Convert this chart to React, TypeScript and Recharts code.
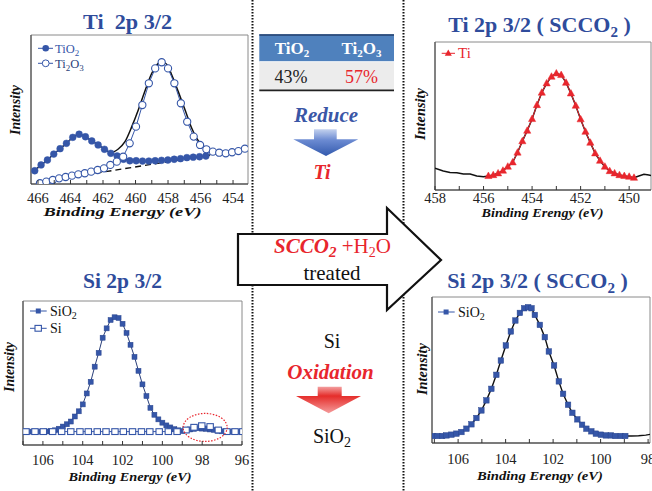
import React from 'react';
import { LineChart, Line, XAxis, YAxis, ReferenceArea, ReferenceLine, ReferenceDot } from 'recharts';

const SERIF = "'Liberation Serif', Tinos, 'Times New Roman', 'DejaVu Serif', serif";
const BLUE = '#3556a8';
const RED = '#e8262d';
const TITLE_BLUE = '#2f4c9c';
const FS = { fontFamily: SERIF } as React.CSSProperties;

// ---------- Ti 2p 3/2 (as deposited) ----------
const tio2Energy = [466.2, 465.81, 465.42, 465.03, 464.64, 464.25, 463.86, 463.47, 463.08, 462.69, 462.3, 461.91, 461.52, 461.13, 460.74, 460.35, 459.96, 459.57, 459.18, 458.79, 458.4, 458.01, 457.62, 457.23, 456.84, 456.45, 456.06, 455.67];
const tio2Intensity = [8.9, 12.8, 16.1, 20.1, 23.7, 27.3, 31.3, 33.4, 31.7, 28.9, 26.2, 23.3, 20.6, 18.8, 16.6, 15.6, 15.6, 15.4, 15.4, 15.6, 15.9, 16.1, 16.6, 17.0, 17.7, 18.0, 18.3, 18.8];
const ti2o3Energy = [465.88, 465.49, 465.09, 464.7, 464.3, 463.91, 463.52, 463.12, 462.73, 462.33, 461.94, 461.55, 461.15, 460.76, 460.36, 459.97, 459.58, 459.18, 458.79, 458.39, 458.0, 457.61, 457.21, 456.82, 456.42, 456.03, 455.64, 455.24, 454.85, 454.45, 454.06, 453.67, 453.27];
const ti2o3Intensity = [0.5, 1.6, 2.7, 3.8, 4.7, 5.6, 6.5, 7.2, 8.3, 9.4, 10.5, 12.8, 15.0, 18.3, 27.3, 38.5, 53.0, 67.6, 77.6, 81.7, 77.6, 67.6, 54.2, 41.8, 31.8, 26.2, 23.3, 21.7, 21.0, 20.6, 21.3, 22.1, 23.7];
const tiFitEnergy = [466.2, 465.81, 465.42, 465.03, 464.64, 464.25, 463.86, 463.47, 463.08, 462.69, 462.3, 461.91, 461.52, 461.06, 460.65, 460.23, 459.83, 459.42, 459.0, 458.6, 458.35, 458.08, 457.77, 457.37, 456.95, 456.54, 456.13, 455.72, 455.31, 454.85, 454.45, 454.06, 453.67, 453.27];
const tiFitIntensity = [8.9, 12.8, 16.1, 20.1, 23.7, 27.3, 31.3, 33.4, 31.7, 28.9, 26.2, 23.3, 21.2, 23.5, 28.4, 38.5, 49.7, 62.4, 74.3, 81.0, 82.1, 80.3, 73.2, 62.0, 49.7, 37.4, 28.9, 24.6, 22.4, 21.0, 20.6, 21.3, 22.1, 23.7];
const tiBaseEnergy = [466.1, 453.2];
const tiBaseIntensity = [0.9, 23.3];
const tlTicks = [454, 455, 456, 457, 458, 459, 460, 461, 462, 463, 464, 465, 466];

// ---------- Ti 2p 3/2 (SCCO2) ----------
const tiScEnergy = [455.8, 455.6, 455.4, 455.2, 455.0, 454.8, 454.6, 454.4, 454.2, 454.0, 453.8, 453.6, 453.4, 453.2, 453.0, 452.8, 452.6, 452.4, 452.2, 452.0, 451.8, 451.6, 451.4, 451.2, 451.0, 450.8, 450.6, 450.4, 450.2, 450.0, 449.8];
const tiScIntensity = [9.5, 10.1, 11.3, 13.1, 15.8, 18.7, 25.3, 33.0, 40.1, 48.0, 57.4, 65.8, 72.1, 76.6, 78.8, 77.7, 72.5, 65.3, 57.0, 47.8, 39.4, 32.0, 24.8, 19.8, 15.8, 12.8, 11.3, 10.1, 9.5, 9.0, 8.3];
const tiRawLeftEnergy = [458.0, 457.66, 457.38, 457.1, 456.83, 456.55, 456.28, 456.0];
const tiRawLeftIntensity = [14.7, 12.8, 11.9, 11.7, 10.8, 10.8, 9.5, 9.0];
const tiRawRightEnergy = [449.6, 449.39, 449.19, 449.1];
const tiRawRightIntensity = [9.5, 10.6, 10.1, 9.8];
const trTicks = [450, 451, 452, 453, 454, 455, 456, 457, 458];

// ---------- Si 2p 3/2 (as deposited) ----------
const sio2Energy = [107.0, 106.8, 106.6, 106.4, 106.2, 106.0, 105.8, 105.6, 105.4, 105.2, 105.0, 104.8, 104.6, 104.4, 104.2, 104.0, 103.8, 103.6, 103.4, 103.2, 103.0, 102.8, 102.6, 102.4, 102.2, 102.0, 101.8, 101.6, 101.4, 101.2, 101.0, 100.8, 100.6, 100.4, 100.2, 100.0, 99.8, 99.6, 99.4, 99.2, 99.0, 98.8, 98.6, 98.4, 98.2, 98.0, 97.8, 97.6, 97.4, 97.2, 97.0, 96.8, 96.6, 96.4, 96.2];
const sio2Intensity = [9.3, 9.3, 9.3, 9.3, 9.3, 9.3, 9.4, 9.6, 10.2, 11.3, 12.8, 14.4, 16.3, 19.8, 23.4, 28.2, 35.8, 43.9, 54.4, 64.0, 74.5, 81.0, 86.8, 88.7, 88.2, 84.2, 77.8, 69.6, 61.2, 51.5, 42.1, 34.0, 25.8, 21.0, 17.8, 15.5, 13.6, 12.2, 11.0, 10.2, 9.7, 10.2, 10.8, 11.2, 11.6, 11.4, 11.2, 10.8, 10.5, 9.9, 9.5, 9.3, 9.3, 9.3, 9.3];
const siEnergy = [106.85, 106.4, 105.98, 105.51, 105.06, 104.6, 104.14, 103.72, 103.27, 102.83, 102.38, 101.96, 101.5, 101.05, 100.63, 100.16, 99.7, 99.26, 98.81, 98.41, 98.02, 97.6, 97.19, 96.76, 96.35, 95.96];
const siIntensity = [9.3, 9.3, 9.3, 9.3, 9.3, 9.3, 9.3, 9.3, 9.3, 9.3, 9.3, 9.3, 9.3, 9.3, 9.3, 9.3, 9.3, 9.3, 10.4, 12.3, 13.4, 12.8, 10.4, 9.3, 9.3, 9.3];
const blTicks = [96, 97, 98, 99, 100, 101, 102, 103, 104, 105, 106, 107];

// ---------- Si 2p 3/2 (SCCO2) ----------
const sio2ScEnergy = [107.05, 106.87, 106.67, 106.49, 106.28, 106.07, 105.86, 105.65, 105.44, 105.23, 105.02, 104.81, 104.6, 104.39, 104.2, 103.99, 103.78, 103.59, 103.4, 103.22, 103.05, 102.91, 102.77, 102.56, 102.35, 102.18, 101.96, 101.76, 101.58, 101.37, 101.19, 100.98, 100.78, 100.6, 100.39, 100.2, 99.99, 99.78, 99.57, 99.38, 99.15, 98.96];
const sio2ScIntensity = [4.8, 4.8, 4.8, 5.2, 5.7, 6.4, 7.5, 9.8, 12.8, 17.1, 22.3, 29.2, 37.1, 46.7, 56.5, 66.8, 76.4, 83.9, 89.1, 92.3, 93.0, 92.3, 87.7, 80.9, 72.5, 62.7, 53.1, 42.2, 33.7, 26.2, 20.7, 16.2, 12.5, 9.8, 8.0, 6.4, 5.7, 5.2, 5.2, 4.8, 4.8, 4.8];
const sio2ScTailEnergy = [98.7, 98.4, 98.1, 97.92];
const sio2ScTailIntensity = [4.8, 5.0, 5.4, 5.9];
const brTicks = [98, 99, 100, 101, 102, 103, 104, 105, 106, 107];

const zip = (e: number[], v: number[]) => e.map((x, k) => ({ e: x, i: v[k] }));

const makeTick = (offset: number) => (props: any) => {
  const { x, y, payload } = props;
  const v = payload.value;
  const show = Math.round(v) % 2 === 0;
  return (
    <g key={`t-${v}`}>
      <line x1={x} x2={x} y1={y} y2={y - 4} stroke="#333" strokeWidth={1} />
      {show && (
        <text x={x} y={y + offset} textAnchor="middle" style={FS} fontSize={14.5} fill="#222">
          {v}
        </text>
      )}
    </g>
  );
};

const triDot = (props: any) => {
  const { cx, cy, index } = props;
  if (cx == null || cy == null) return <g key={`tri-${index}`} />;
  return (
    <polygon
      key={`tri-${index}`}
      points={`${cx},${cy - 3.9} ${cx + 3.6},${cy + 2.6} ${cx - 3.6},${cy + 2.6}`}
      fill={RED}
      stroke={RED}
      strokeWidth={0.5}
    />
  );
};

const sqDot = (size: number) => (props: any) => {
  const { cx, cy, index } = props;
  if (cx == null || cy == null) return <g key={`sq-${index}`} />;
  return <rect key={`sq-${index}`} x={cx - size / 2} y={cy - size / 2} width={size} height={size} fill={BLUE} stroke="#2a468f" strokeWidth={0.5} />;
};

const openSqDot = (props: any) => {
  const { cx, cy, index } = props;
  if (cx == null || cy == null) return <g key={`osq-${index}`} />;
  return <rect key={`osq-${index}`} x={cx - 3.2} y={cy - 2.9} width={6.4} height={5.8} fill="#fff" stroke={BLUE} strokeWidth={1.1} />;
};

function Panel(props: {
  left: number; top: number; width: number; height: number;
  margin: { top: number; left: number; right: number; bottom: number };
  xh: number; domain: [number, number]; ticks: number[]; tickOffset: number;
  children: React.ReactNode;
}) {
  const { left, top, width, height, margin, xh, domain, ticks, tickOffset, children } = props;
  return (
    <div style={{ position: 'absolute', left, top, width, height }}>
      <LineChart width={width} height={height} margin={margin} style={FS}>
        <XAxis
          type="number"
          dataKey="e"
          domain={domain}
          reversed
          allowDataOverflow
          ticks={ticks}
          interval={0}
          tickLine={false}
          tickSize={0}
          tickMargin={0}
          height={xh}
          axisLine={{ stroke: '#333', strokeWidth: 1.2 }}
          tick={makeTick(tickOffset)}
        />
        <YAxis type="number" domain={[0, 100]} allowDataOverflow hide />
        <ReferenceArea x1={domain[0]} x2={domain[1]} y1={0} y2={100} fill="none" stroke="#8a8a8a" strokeWidth={1} ifOverflow="visible" />
        <ReferenceLine x={domain[1]} stroke="#555" strokeWidth={1.2} ifOverflow="visible" />
        {children}
      </LineChart>
    </div>
  );
}

const Overlay = () => (
  <svg width={652} height={491} style={{ position: 'absolute', left: 0, top: 0, pointerEvents: 'none', fontFamily: SERIF }}>
    <defs>
      <linearGradient id="gBlue" x1="0" y1="0" x2="0" y2="1">
        <stop offset="0" stopColor="#c3d1ee" />
        <stop offset="0.4" stopColor="#6c8bd2" />
        <stop offset="1" stopColor="#3259ad" />
      </linearGradient>
      <linearGradient id="gRed" x1="0" y1="0" x2="0" y2="1">
        <stop offset="0" stopColor="#f3a0a0" />
        <stop offset="0.35" stopColor="#e52d2a" />
        <stop offset="1" stopColor="#f59c9c" />
      </linearGradient>
    </defs>

    {/* dotted separators */}
    <line x1={252.5} y1={0} x2={252.5} y2={491} stroke="#111" strokeWidth={2} strokeDasharray="1.6 1.4" />
    <line x1={403.5} y1={0} x2={403.5} y2={491} stroke="#111" strokeWidth={2} strokeDasharray="1.6 1.4" />

    {/* titles */}
    <text x={127.5} y={28.5} textAnchor="middle" fontSize={20} fontWeight="bold" fill={TITLE_BLUE} textLength={89} lengthAdjust="spacingAndGlyphs" style={{ whiteSpace: 'pre', fontFamily: SERIF }}>Ti  2p 3/2</text>
    <text x={539.5} y={31.5} textAnchor="middle" fontSize={22} fontWeight="bold" fill={TITLE_BLUE} style={{ whiteSpace: 'pre', fontFamily: SERIF }}>
      Ti 2p 3/2 ( SCCO<tspan dy={5} fontSize={15}>2</tspan><tspan dy={-5}> )</tspan>
    </text>
    <text x={122.5} y={288} textAnchor="middle" fontSize={21} fontWeight="bold" fill={TITLE_BLUE} textLength={79} lengthAdjust="spacingAndGlyphs" style={FS}>Si 2p 3/2</text>
    <text x={537.5} y={288} textAnchor="middle" fontSize={22} fontWeight="bold" fill={TITLE_BLUE} style={{ whiteSpace: 'pre', fontFamily: SERIF }}>
      Si 2p 3/2 ( SCCO<tspan dy={5} fontSize={15}>2</tspan><tspan dy={-5}> )</tspan>
    </text>

    {/* x labels */}
    <text x={122.5} y={216} textAnchor="middle" fontSize={13.5} fontWeight="bold" fontStyle="italic" fill="#111" textLength={158} lengthAdjust="spacingAndGlyphs" style={FS}>Binding Energy (eV)</text>
    <text x={542.5} y={217} textAnchor="middle" fontSize={12} fontWeight="bold" fontStyle="italic" fill="#111" textLength={122} lengthAdjust="spacingAndGlyphs" style={FS}>Binding Erengy (eV)</text>
    <text x={130} y={480.5} textAnchor="middle" fontSize={12.5} fontWeight="bold" fontStyle="italic" fill="#111" textLength={123} lengthAdjust="spacingAndGlyphs" style={FS}>Binding Energy (eV)</text>
    <text x={540} y={479.5} textAnchor="middle" fontSize={12.5} fontWeight="bold" fontStyle="italic" fill="#111" textLength={126} lengthAdjust="spacingAndGlyphs" style={FS}>Binding Erengy (eV)</text>

    {/* y labels */}
    <text transform="translate(20,110) rotate(-90)" textAnchor="middle" fontSize={14} fontWeight="bold" fontStyle="italic" fill="#111" textLength={50} lengthAdjust="spacingAndGlyphs" style={FS}>Intensity</text>
    <text transform="translate(425,114) rotate(-90)" textAnchor="middle" fontSize={14} fontWeight="bold" fontStyle="italic" fill="#111" textLength={52} lengthAdjust="spacingAndGlyphs" style={FS}>Intensity</text>
    <text transform="translate(13.5,367) rotate(-90)" textAnchor="middle" fontSize={14} fontWeight="bold" fontStyle="italic" fill="#111" textLength={50} lengthAdjust="spacingAndGlyphs" style={FS}>Intensity</text>
    <text transform="translate(426.5,369) rotate(-90)" textAnchor="middle" fontSize={14} fontWeight="bold" fontStyle="italic" fill="#111" textLength={52} lengthAdjust="spacingAndGlyphs" style={FS}>Intensity</text>

    {/* legends */}
    <line x1={38} y1={48.3} x2={53} y2={48.3} stroke={BLUE} strokeWidth={1} />
    <circle cx={45.7} cy={48.3} r={3.3} fill={BLUE} />
    <text x={55} y={52.5} fontSize={12.5} fill={BLUE} style={FS}>TiO<tspan dy={3} fontSize={9}>2</tspan></text>
    <line x1={38} y1={63.3} x2={53} y2={63.3} stroke={BLUE} strokeWidth={1} />
    <circle cx={45.7} cy={63.3} r={3.4} fill="#fff" stroke={BLUE} strokeWidth={1} />
    <text x={55} y={67.5} fontSize={12.5} fill="#2a3f7a" style={FS}>Ti<tspan dy={3} fontSize={9}>2</tspan><tspan dy={-3}>O</tspan><tspan dy={3} fontSize={9}>3</tspan></text>

    <line x1={441.7} y1={53.3} x2={455} y2={53.3} stroke={RED} strokeWidth={1} />
    <polygon points="448.3,49.6 451.8,55.8 444.8,55.8" fill={RED} />
    <text x={458} y={58} fontSize={15} fill={RED} style={FS}>Ti</text>

    <line x1={30} y1={311} x2={46.7} y2={311} stroke={BLUE} strokeWidth={1} />
    <rect x={35.8} y={308.5} width={5} height={5} fill={BLUE} />
    <text x={50} y={316} fontSize={14} fill="#111" style={FS}>SiO<tspan dy={3} fontSize={10}>2</tspan></text>
    <line x1={30} y1={328.3} x2={46.7} y2={328.3} stroke={BLUE} strokeWidth={1} />
    <rect x={35} y={325.4} width={6.4} height={5.8} fill="#fff" stroke={BLUE} strokeWidth={1.1} />
    <text x={50} y={333} fontSize={14} fill="#111" style={FS}>Si</text>

    <line x1={438} y1={312} x2={454.7} y2={312} stroke={BLUE} strokeWidth={1} />
    <rect x={443.6} y={309.5} width={5} height={5} fill={BLUE} />
    <text x={458} y={316.5} fontSize={14} fill="#111" style={FS}>SiO<tspan dy={3} fontSize={10}>2</tspan></text>

    {/* table */}
    <rect x={259.3} y={34.3} width={134.7} height={27.4} fill="#4f81bd" />
    <rect x={259.3} y={61.7} width={134.7} height={29} fill="#ececec" />
    <line x1={259.3} y1={35} x2={394} y2={35} stroke="#23406e" strokeWidth={1.6} />
    <line x1={259.3} y1={61.7} x2={394} y2={61.7} stroke="#ffffff" strokeWidth={0.8} />
    <line x1={259.3} y1={90.3} x2={394} y2={90.3} stroke="#222" strokeWidth={1.8} />
    <text x={292} y={54} textAnchor="middle" fontSize={17} fontWeight="bold" fill="#fff" style={FS}>TiO<tspan dy={3} fontSize={11}>2</tspan></text>
    <text x={361.5} y={54} textAnchor="middle" fontSize={17} fontWeight="bold" fill="#fff" style={FS}>Ti<tspan dy={3} fontSize={11}>2</tspan><tspan dy={-3}>O</tspan><tspan dy={3} fontSize={11}>3</tspan></text>
    <text x={291} y={82.5} textAnchor="middle" fontSize={18} fill="#222" style={FS}>43%</text>
    <text x={361.5} y={82.5} textAnchor="middle" fontSize={18} fill={RED} style={FS}>57%</text>

    <text x={326} y={121.5} textAnchor="middle" fontSize={21} fontWeight="bold" fontStyle="italic" fill="#3a56a6" style={FS}>Reduce</text>
    <polygon points="314,129.3 336.7,129.3 336.7,139.3 358.3,139.3 326,156 293.3,139.3 314,139.3" fill="url(#gBlue)" />
    <text x={322} y={179} textAnchor="middle" fontSize={20} fontWeight="bold" fontStyle="italic" fill={RED} style={FS}>Ti</text>

    {/* big process arrow */}
    <polygon points="238,234 387,234 387,208 441,260 387,310 387,285 238,285" fill="#fff" stroke="#111" strokeWidth={2.2} strokeLinejoin="miter" />
    <text x={332.5} y={253} textAnchor="middle" fontSize={21} fill={RED} style={{ whiteSpace: 'pre', fontFamily: SERIF }}>
      <tspan fontWeight="bold" fontStyle="italic">SCCO</tspan><tspan fontWeight="bold" fontStyle="italic" dy={4} fontSize={15}>2</tspan><tspan dy={-4}> +H</tspan><tspan dy={4} fontSize={14}>2</tspan><tspan dy={-4}>O</tspan>
    </text>
    <text x={332} y={280} textAnchor="middle" fontSize={21} fill="#111" style={FS}>treated</text>

    <text x={332} y={348} textAnchor="middle" fontSize={20} fill="#111" style={FS}>Si</text>
    <text x={330.5} y={379} textAnchor="middle" fontSize={21} fontWeight="bold" fontStyle="italic" fill={RED} style={FS}>Oxidation</text>
    <polygon points="317.7,386.7 341.7,386.7 341.7,396 361,396 328.7,413.3 296,396 317.7,396" fill="url(#gRed)" />
    <text x={332} y={443} textAnchor="middle" fontSize={20} fill="#111" style={FS}>SiO<tspan dy={4} fontSize={14}>2</tspan></text>
  </svg>
);

export default function App() {
  const tio2 = zip(tio2Energy, tio2Intensity);
  const ti2o3 = zip(ti2o3Energy, ti2o3Intensity);
  const tiFit = zip(tiFitEnergy, tiFitIntensity);
  const tiBase = zip(tiBaseEnergy, tiBaseIntensity);
  const tiSc = zip(tiScEnergy, tiScIntensity);
  const tiRaw = [...zip(tiRawLeftEnergy, tiRawLeftIntensity), ...tiSc, ...zip(tiRawRightEnergy, tiRawRightIntensity)];
  const sio2 = zip(sio2Energy, sio2Intensity);
  const si = zip(siEnergy, siIntensity);
  const sio2Sc = zip(sio2ScEnergy, sio2ScIntensity);
  const sio2ScLine = [...sio2Sc, ...zip(sio2ScTailEnergy, sio2ScTailIntensity)];

  return (
    <div style={{ position: 'absolute', left: 0, top: 0, width: 652, height: 491, background: '#fff', overflow: 'hidden', fontFamily: SERIF }}>
      <Panel left={0} top={0} width={252} height={220} margin={{ top: 35, left: 31, right: 4, bottom: 0 }} xh={36} domain={[453.08, 466.43]} ticks={tlTicks} tickOffset={18.5}>
        <Line data={tiFit} dataKey="i" type="monotone" stroke="#111" strokeWidth={1.5} dot={false} activeDot={false} isAnimationActive={false} />
        <Line data={tio2} dataKey="i" type="linear" stroke={BLUE} strokeWidth={1} dot={{ r: 3.4, fill: BLUE, stroke: BLUE, strokeWidth: 0.5 }} activeDot={false} isAnimationActive={false} />
        <Line data={ti2o3} dataKey="i" type="linear" stroke={BLUE} strokeWidth={1} dot={{ r: 3.6, fill: '#fff', stroke: BLUE, strokeWidth: 1.1 }} activeDot={false} isAnimationActive={false} />
        <Line data={tiBase} dataKey="i" type="linear" stroke="#111" strokeWidth={1.4} strokeDasharray="6 4" dot={false} activeDot={false} isAnimationActive={false} />
      </Panel>

      <Panel left={405} top={0} width={247} height={220} margin={{ top: 42, left: 30, right: 1, bottom: 0 }} xh={30} domain={[449.1, 458]} ticks={trTicks} tickOffset={13}>
        <Line data={tiRaw} dataKey="i" type="linear" stroke="#111" strokeWidth={1.5} dot={false} activeDot={false} isAnimationActive={false} />
        <Line data={tiSc} dataKey="i" type="linear" stroke={RED} strokeWidth={1} dot={triDot} activeDot={false} isAnimationActive={false} />
      </Panel>

      <Panel left={0} top={260} width={252} height={231} margin={{ top: 41, left: 23, right: 10, bottom: 0 }} xh={46} domain={[96, 107]} ticks={blTicks} tickOffset={19.5}>
        <Line data={sio2} dataKey="i" type="linear" stroke="#2a3f7a" strokeWidth={1} dot={sqDot(5)} activeDot={false} isAnimationActive={false} />
        <Line data={si} dataKey="i" type="linear" stroke={BLUE} strokeWidth={1} dot={openSqDot} activeDot={false} isAnimationActive={false} />
        <ReferenceDot
          x={97.85}
          y={12.2}
          r={0}
          ifOverflow="visible"
          shape={(p: any) => <ellipse cx={p.cx} cy={p.cy} rx={22} ry={14} fill="none" stroke={RED} strokeWidth={1.2} strokeDasharray="1.5 1.5" />}
        />
      </Panel>

      <Panel left={405} top={260} width={247} height={231} margin={{ top: 37, left: 27, right: 2, bottom: 0 }} xh={48} domain={[97.92, 107.1]} ticks={brTicks} tickOffset={20.5}>
        <Line data={sio2ScLine} dataKey="i" type="linear" stroke="#111" strokeWidth={1.4} dot={false} activeDot={false} isAnimationActive={false} />
        <Line data={sio2Sc} dataKey="i" type="linear" stroke="none" dot={sqDot(5.5)} activeDot={false} isAnimationActive={false} />
      </Panel>

      <Overlay />
    </div>
  );
}
